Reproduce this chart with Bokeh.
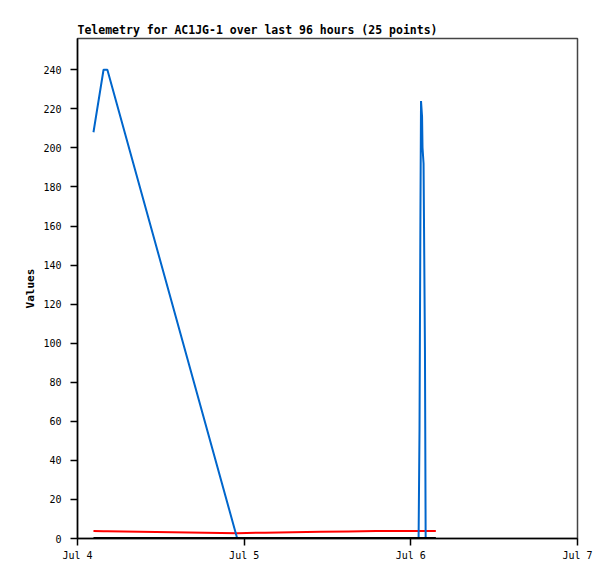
"""Telemetry plot for AC1JG-1."""
import pandas as pd
from bokeh.embed import file_html
from bokeh.models import FixedTicker, Range1d
from bokeh.plotting import figure
from bokeh.resources import INLINE

FONT = "DejaVu Sans Mono"

# Sample times (25 points)
times = [
    "2023-07-04 02:18", "2023-07-04 03:45", "2023-07-04 04:18",
    "2023-07-04 23:00", "2023-07-05 03:00", "2023-07-05 07:00",
    "2023-07-05 11:00", "2023-07-05 15:00", "2023-07-05 19:00",
    "2023-07-05 23:00", "2023-07-06 01:07", "2023-07-06 01:15",
    "2023-07-06 01:23", "2023-07-06 01:28", "2023-07-06 01:37",
    "2023-07-06 01:41", "2023-07-06 01:50", "2023-07-06 02:02",
    "2023-07-06 02:08", "2023-07-06 02:30", "2023-07-06 02:48",
    "2023-07-06 03:00", "2023-07-06 03:12", "2023-07-06 03:24",
    "2023-07-06 03:36",
]
blue_values = [208, 240, 240, 0, 0, 0, 0, 0, 0, 0, 0, 56, 168, 224, 216,
               200, 192, 96, 0, 0, 0, 0, 0, 0, 0]
red_values = [3.8, 3.7, 3.7, 2.7, 3.0, 3.2, 3.4, 3.6, 3.8, 3.9, 3.9, 3.9,
              3.9, 3.9, 3.9, 3.9, 3.9, 3.9, 3.9, 3.9, 3.9, 3.9, 3.9, 3.9, 3.9]
black_values = [0.2] * 25

day_ticks = ["2023-07-04", "2023-07-05", "2023-07-06", "2023-07-07"]
day_labels = ["Jul 4", "Jul 5", "Jul 6", "Jul 7"]
y_ticks = list(range(0, 241, 20))

t = pd.to_datetime(times)
tick_ms = [int(pd.Timestamp(d).value // 10**6) for d in day_ticks]

p = figure(
    width=608,
    height=571,
    x_axis_type="datetime",
    x_range=Range1d(pd.Timestamp(day_ticks[0]), pd.Timestamp(day_ticks[-1])),
    y_range=Range1d(0, 256),
    output_backend="svg",
    toolbar_location=None,
    title="Telemetry for AC1JG-1 over last 96 hours (25 points)",
    min_border_left=77,
    min_border_right=31,
    min_border_top=38,
    min_border_bottom=33,
)
p.title.text_font = FONT
p.title.text_font_size = "11.5px"
p.title.text_font_style = "bold"
p.title.text_color = "black"
p.title.align = "left"
p.title.offset = 0
p.title.standoff = 3

p.xgrid.visible = False
p.ygrid.visible = False
p.outline_line_color = "#444444"
p.outline_line_width = 1.5

for ax in (p.xaxis[0], p.yaxis[0]):
    ax.major_tick_in = 0
    ax.major_tick_out = 7
    ax.minor_tick_out = 0
    ax.minor_tick_in = 0
    ax.axis_line_color = "black"
    ax.axis_line_width = 1.5
    ax.major_tick_line_color = "black"
    ax.major_tick_line_width = 1.5
    ax.major_label_text_font = FONT
    ax.major_label_text_font_size = "10px"
    ax.major_label_text_color = "black"

p.xaxis.ticker = FixedTicker(ticks=tick_ms)
p.xaxis.major_label_overrides = dict(zip(tick_ms, day_labels))
p.xaxis.major_label_standoff = 4

p.yaxis.ticker = FixedTicker(ticks=y_ticks)
p.yaxis.major_label_standoff = 9
p.yaxis.axis_label = "Values"
p.yaxis.axis_label_text_font = FONT
p.yaxis.axis_label_text_font_size = "11px"
p.yaxis.axis_label_text_font_style = "bold"
p.yaxis.axis_label_text_color = "black"
p.yaxis.axis_label_standoff = 3

p.line(t, red_values, line_color="#ff0000", line_width=2)
p.line(t, blue_values, line_color="#0066cc", line_width=2)
p.line(t, black_values, line_color="black", line_width=2)

open("out.html", "w").write(file_html(p, INLINE))
